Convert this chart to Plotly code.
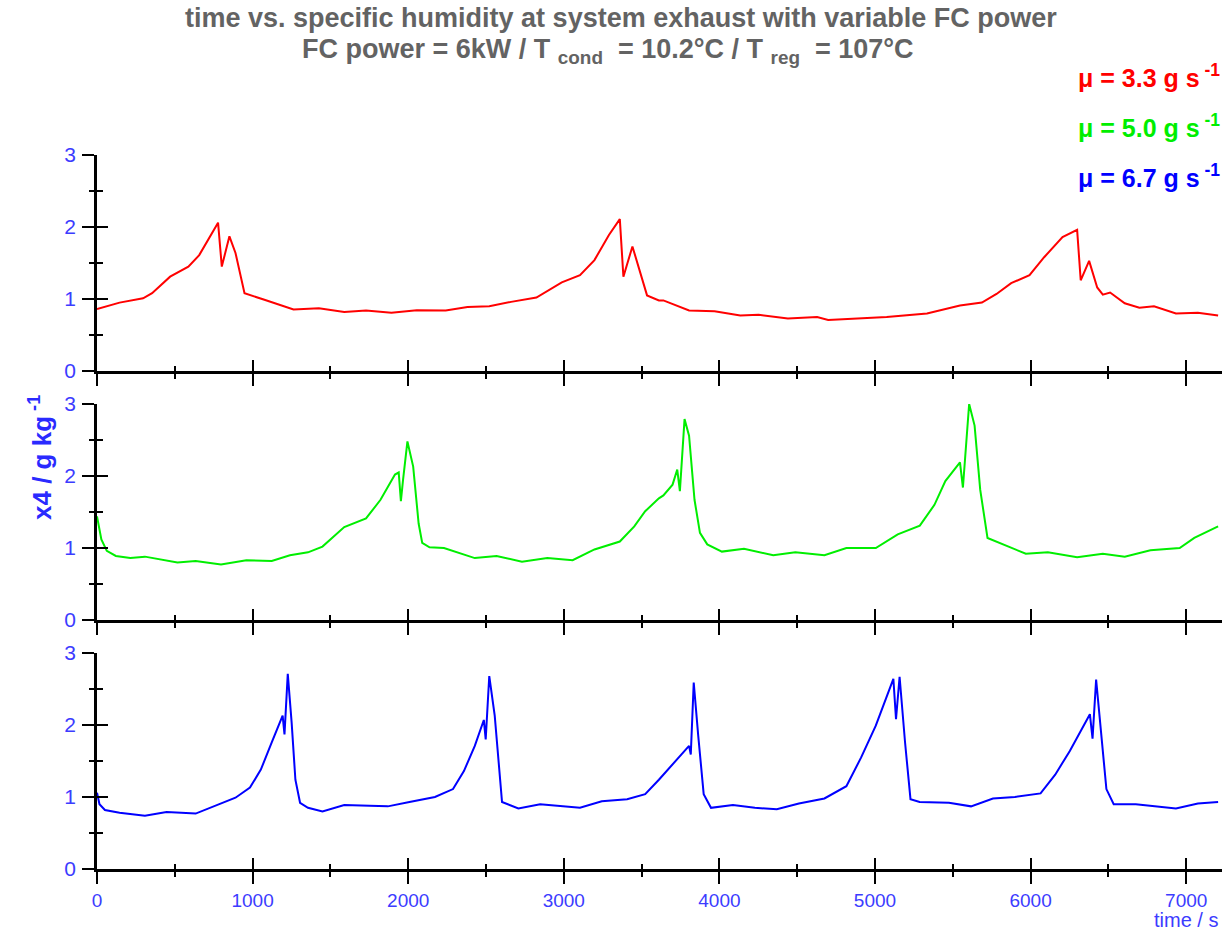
import plotly.graph_objects as go

# ---------------- data ----------------
t_red = [0, 145, 296, 354, 470, 587, 657, 727, 778, 802, 851, 890, 948, 1076, 1170, 1263, 1426, 1589, 1729, 1892,
         2055, 2241, 2381, 2521, 2661, 2824, 2987, 3104, 3197, 3290, 3360, 3383, 3441, 3488, 3535, 3611, 3640, 3805,
         3969, 4134, 4252, 4440, 4628, 4699, 4864, 5075, 5334, 5546, 5687, 5781, 5875, 5993, 6087, 6205, 6299, 6322,
         6376, 6428, 6464, 6511, 6605, 6699, 6793, 6934, 7075, 7205]
x4_red = [0.86, 0.95, 1.01, 1.08, 1.31, 1.45, 1.61, 1.87, 2.06, 1.45, 1.87, 1.64, 1.08, 0.99, 0.92, 0.855, 0.87, 0.82,
          0.84, 0.81, 0.845, 0.84, 0.89, 0.90, 0.96, 1.02, 1.23, 1.33, 1.54, 1.89, 2.11, 1.31, 1.73, 1.40, 1.05, 0.98,
          0.98, 0.84, 0.83, 0.77, 0.78, 0.73, 0.75, 0.71, 0.73, 0.75, 0.80, 0.91, 0.95, 1.07, 1.22, 1.33, 1.58, 1.86,
          1.96, 1.26, 1.53, 1.16, 1.06, 1.09, 0.94, 0.88, 0.90, 0.80, 0.81, 0.77]

t_green = [0, 28, 63, 121, 214, 308, 517, 634, 797, 960, 1123, 1240, 1356, 1449, 1589, 1729, 1822, 1915, 1939, 1953,
           1967, 1995, 2032, 2067, 2090, 2137, 2230, 2428, 2568, 2731, 2894, 3057, 3197, 3360, 3453, 3523, 3611, 3640,
           3699, 3729, 3746, 3776, 3805, 3840, 3875, 3922, 4016, 4158, 4346, 4488, 4675, 4816, 5005, 5146, 5288, 5382,
           5452, 5546, 5565, 5605, 5640, 5676, 5723, 5805, 5969, 6111, 6299, 6464, 6605, 6770, 6958, 7052, 7205]
x4_green = [1.44, 1.12, 0.96, 0.89, 0.86, 0.88, 0.80, 0.82, 0.77, 0.83, 0.82, 0.90, 0.94, 1.02, 1.29, 1.41, 1.67, 2.02,
            2.05, 1.65, 1.95, 2.48, 2.13, 1.34, 1.07, 1.01, 1.00, 0.86, 0.89, 0.81, 0.86, 0.83, 0.98, 1.09, 1.30, 1.51,
            1.69, 1.73, 1.88, 2.09, 1.79, 2.79, 2.56, 1.67, 1.21, 1.05, 0.95, 0.99, 0.90, 0.94, 0.90, 1.00, 1.00, 1.19,
            1.31, 1.60, 1.93, 2.19, 1.84, 3.00, 2.70, 1.81, 1.14, 1.07, 0.92, 0.94, 0.87, 0.92, 0.88, 0.97, 1.00, 1.14,
            1.30]

t_blue = [0, 16, 51, 145, 308, 447, 634, 750, 890, 983, 1053, 1123, 1193, 1205, 1226, 1251, 1275, 1305, 1356, 1449,
          1589, 1752, 1869, 2008, 2172, 2288, 2358, 2428, 2486, 2498, 2521, 2556, 2603, 2708, 2848, 3104, 3244, 3407,
          3523, 3611, 3711, 3805, 3816, 3835, 3864, 3899, 3946, 4087, 4228, 4369, 4511, 4675, 4816, 4911, 5005, 5118,
          5135, 5158, 5193, 5228, 5287, 5475, 5617, 5758, 5899, 6064, 6158, 6252, 6381, 6398, 6421, 6452, 6487, 6534,
          6676, 6934, 7075, 7205]
x4_blue = [1.06, 0.90, 0.82, 0.78, 0.74, 0.79, 0.77, 0.87, 0.99, 1.13, 1.38, 1.76, 2.13, 1.87, 2.71, 2.03, 1.24, 0.92,
           0.85, 0.80, 0.89, 0.88, 0.87, 0.93, 1.00, 1.11, 1.36, 1.71, 2.07, 1.80, 2.68, 2.13, 0.93, 0.84, 0.90, 0.85,
           0.94, 0.97, 1.04, 1.24, 1.48, 1.71, 1.59, 2.59, 1.85, 1.04, 0.85, 0.89, 0.85, 0.83, 0.91, 0.98, 1.15, 1.55,
           1.99, 2.64, 2.08, 2.67, 1.76, 0.97, 0.93, 0.92, 0.87, 0.98, 1.00, 1.05, 1.31, 1.64, 2.15, 1.81, 2.63, 1.90,
           1.11, 0.90, 0.90, 0.84, 0.91, 0.93]

series_labels = ["μ = 3.3 g s<sup> -1</sup>", "μ = 5.0 g s<sup> -1</sup>", "μ = 6.7 g s<sup> -1</sup>"]
series_colors = ["#ff0000", "#00ee00", "#0000ff"]
x_ticks = [0, 1000, 2000, 3000, 4000, 5000, 6000, 7000]
y_ticks = [0, 1, 2, 3]

# ---------------- layout geometry ----------------
W, H = 1226, 934
ML, MR, MT, MB = 97, 4, 155, 65
PW, PH = W - ML - MR, H - MT - MB
X_RANGE = [0, 7230]
Y_RANGE = [0, 3]


def py2paper(py):
    return (H - MB - py) / PH


def px2paper(px):
    return (px - ML) / PW


panel_px = [(155, 371), (404, 620), (653, 869)]  # top, bottom pixel of each panel
domains = [[py2paper(b), py2paper(t)] for (t, b) in panel_px]

FONT = "Liberation Sans, Arial, sans-serif"
TICKBLUE = "#3c3cff"

fig = go.Figure()
series = [(t_red, x4_red), (t_green, x4_green), (t_blue, x4_blue)]

for i, ((tx, ty), col) in enumerate(zip(series, series_colors)):
    n = i + 1
    fig.add_trace(go.Scatter(x=tx, y=ty, mode="lines", line=dict(color=col, width=2),
                             xaxis="x" if n == 1 else f"x{n}", yaxis="y" if n == 1 else f"y{n}",
                             showlegend=False, hoverinfo="skip"))
    # dummy trace for the overlay axes (inside ticks)
    fig.add_trace(go.Scatter(x=[None], y=[None], mode="lines", xaxis=f"x{n+3}", yaxis=f"y{n+3}",
                             showlegend=False, hoverinfo="skip"))

layout = dict(width=W, height=H, margin=dict(l=ML, r=MR, t=MT, b=MB),
              paper_bgcolor="white", plot_bgcolor="white", showlegend=False,
              font=dict(family=FONT))

for i in range(3):
    n = i + 1
    xk = "xaxis" if n == 1 else f"xaxis{n}"
    yk = "yaxis" if n == 1 else f"yaxis{n}"
    xa = "y" if n == 1 else f"y{n}"
    ya = "x" if n == 1 else f"x{n}"
    layout[xk] = dict(range=X_RANGE, domain=[0, 1], anchor=xa, showline=True, linecolor="black", linewidth=2.5,
                      ticks="outside", ticklen=12, tickwidth=2, tickcolor="black",
                      tickvals=x_ticks, showgrid=False, zeroline=False,
                      minor=dict(dtick=500, tick0=0, ticks="outside", ticklen=5, tickwidth=2, tickcolor="black",
                                 showgrid=False),
                      showticklabels=(n == 3), tickfont=dict(color=TICKBLUE, size=19, family=FONT),
                      fixedrange=True)
    layout[yk] = dict(range=Y_RANGE, domain=domains[i], anchor=ya, showline=True, linecolor="black", linewidth=2.5,
                      ticks="outside", ticklen=12, tickwidth=2, tickcolor="black",
                      tickvals=y_ticks, showgrid=False, zeroline=False,
                      minor=dict(dtick=0.5, tick0=0, ticks="outside", ticklen=5, tickwidth=2, tickcolor="black",
                                 showgrid=False),
                      tickfont=dict(color=TICKBLUE, size=21, family=FONT), ticklabelstandoff=2,
                      fixedrange=True)
    # overlay axes with inside ticks -> crossing ticks
    layout[f"xaxis{n+3}"] = dict(range=X_RANGE, overlaying=ya, anchor=f"y{n+3}", showline=False,
                                 ticks="inside", ticklen=11, tickwidth=2, tickcolor="black",
                                 tickvals=x_ticks, showticklabels=False, showgrid=False, zeroline=False,
                                 minor=dict(dtick=500, tick0=0, ticks="inside", ticklen=5, tickwidth=2,
                                            tickcolor="black", showgrid=False), fixedrange=True)
    layout[f"yaxis{n+3}"] = dict(range=Y_RANGE, overlaying=xa, anchor=f"x{n+3}", showline=False,
                                 ticks="inside", ticklen=11, tickwidth=2, tickcolor="black",
                                 tickvals=y_ticks, showticklabels=False, showgrid=False, zeroline=False,
                                 minor=dict(dtick=0.5, tick0=0, ticks="inside", ticklen=6, tickwidth=2,
                                            tickcolor="black", showgrid=False), fixedrange=True)

fig.update_layout(**layout)

ann = []
GRAY = "#636363"
ann.append(dict(text="<b>time vs. specific humidity at system exhaust with variable FC power</b>",
                x=px2paper(621), y=py2paper(18), xref="paper", yref="paper", showarrow=False,
                xanchor="center", yanchor="middle", font=dict(size=27, color=GRAY, family=FONT)))
ann.append(dict(text="<b>FC power = 6kW / T <sub>cond</sub>  = 10.2°C / T <sub>reg</sub>  = 107°C</b>",
                x=px2paper(608), y=py2paper(51), xref="paper", yref="paper", showarrow=False,
                xanchor="center", yanchor="middle", font=dict(size=27, color=GRAY, family=FONT)))
for lab, col, ypix in zip(series_labels, series_colors, [76, 126, 176]):
    ann.append(dict(text=f"<b>{lab}</b>", x=px2paper(1222), y=py2paper(ypix), xref="paper", yref="paper",
                    showarrow=False, xanchor="right", yanchor="middle",
                    font=dict(size=25, color=col, family=FONT)))
ann.append(dict(text="<b>x4 / g kg<sup> -1</sup></b>", x=px2paper(40), y=py2paper(458), xref="paper",
                yref="paper", showarrow=False, textangle=-90, xanchor="center", yanchor="middle",
                font=dict(size=26, color="#2a2aff", family=FONT)))
ann.append(dict(text="time / s", x=px2paper(1220), y=py2paper(920), xref="paper", yref="paper",
                showarrow=False, xanchor="right", yanchor="middle",
                font=dict(size=20, color=TICKBLUE, family=FONT)))
fig.update_layout(annotations=ann)

fig.write_html("out.html")
